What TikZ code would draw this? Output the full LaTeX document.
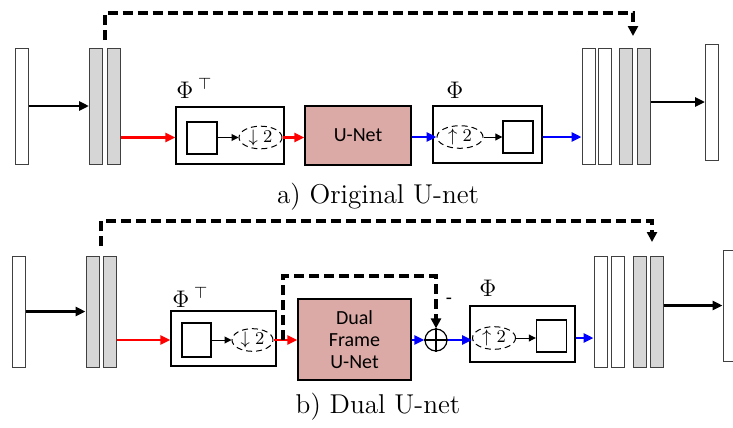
\documentclass[tikz,border=0pt]{standalone}
\usepackage{fontspec}
\newfontfamily\boxfont{Carlito}
\usetikzlibrary{arrows.meta,shapes.geometric}

\definecolor{unetpink}{RGB}{220,170,166}

\begin{document}
\begin{tikzpicture}[x=0.5pt,y=-0.5pt,
  bar/.style={draw=black!75,line width=0.5pt,minimum width=6.5pt,inner sep=0pt},
  wbar/.style={bar,fill=white},
  gbar/.style={bar,fill=black!16},
  op/.style={draw,line width=0.7pt,inner sep=0pt},
  sq/.style={draw,line width=0.7pt,minimum width=15pt,minimum height=16pt,inner sep=0pt},
  samp/.style={ellipse,draw,densely dashed,line width=0.5pt,minimum width=21.5pt,minimum height=11pt,inner sep=0pt,font=\fontsize{9}{9}\selectfont},
  net/.style={draw,line width=0.7pt,fill=unetpink,inner sep=0pt,align=center,font=\boxfont\fontsize{10}{11}\selectfont},
  thk/.style={line width=1.4pt,-{Triangle[length=5pt,width=4.5pt]}},
  thin/.style={line width=0.5pt,-{Triangle[length=3.5pt,width=3.5pt]}},
  skip/.style={line width=2pt,dash pattern=on 5pt off 2.5pt,-{Triangle[length=5pt,width=5pt]}},
  lbl/.style={inner sep=0pt,font=\fontsize{12}{12}\selectfont},
  captext/.style={inner sep=0pt,font=\rmfamily\fontsize{13.6}{14}\selectfont}]
  \useasboundingbox (0,0) rectangle (733,428);
  % a) original U-net
  \node[wbar,minimum height=58pt] (ain) at (21.5,106) {};
  \foreach \x/\n in {96/ag1,114/ag2,626/ag3,644/ag4}{\node[gbar,minimum height=58pt] (\n) at (\x,106) {};}
  \foreach \x/\n in {588.5/aw1,605/aw2}{\node[wbar,minimum height=58pt] (\n) at (\x,106) {};}
  \node[wbar,minimum height=58pt] (aout) at (712,102) {};
  \node[op,minimum width=54pt,minimum height=28.5pt] (apt) at (230,135.5) {};
  \node[sq] (asq1) at (202,138) {};
  \node[samp] (adn) at (260.5,137.5) {$\downarrow 2$};
  \node[net,minimum width=53pt,minimum height=29.5pt] (anet) at (358,135.5) {U-Net};
  \node[op,minimum width=54.5pt,minimum height=28.5pt] (aph) at (487.5,134.5) {};
  \node[samp,minimum width=23pt] (aup) at (460,137) {$\uparrow 2$};
  \node[sq] (asq2) at (518,137) {};
  \node[lbl,anchor=base west] (aptl) at (176,98) {$\Phi^{\;\top}$};
  \node[lbl,anchor=base west] (aphl) at (446,98) {$\Phi$};
  \draw[thk] (ain.east |- ag1) -- (ag1);
  \draw[thk,red] (ag2.east |- adn) -- (adn -| apt.west);
  \draw[thin] (asq1.east |- adn) -- (adn);
  \draw[thk,red] (adn.east) -- (adn.east -| anet.west);
  \draw[thk,blue] (anet.east |- aup) -- (aup);
  \draw[thin] (aup) -- (asq2.west |- aup);
  \draw[thk,blue] (aph.east |- aup) -- (aup -| aw1.west);
  \draw[thk] (ag4.east |- aout) -- (aout);
  \coordinate (askip) at (104.5,40);
  \coordinate (aend) at (633,36);
  \draw[skip] (askip) -- ++(0,-27) -| (aend);
  \node[captext,anchor=base] (acap) at (378,203) {a) Original U-net};
  % b) dual U-net
  \node[wbar,minimum height=55.5pt] (bin) at (19,311.5) {};
  \foreach \x/\n in {92.5/bg1,110/bg2,639.5/bg3,656.5/bg4}{\node[gbar,minimum height=55.5pt] (\n) at (\x,311.5) {};}
  \foreach \x/\n in {600.5/bw1,617.5/bw2}{\node[wbar,minimum height=55.5pt] (\n) at (\x,311.5) {};}
  \node[wbar,minimum height=55.5pt] (bout) at (729.5,305.5) {};
  \node[op,minimum width=52.5pt,minimum height=27.5pt] (bpt) at (223.5,338.5) {};
  \node[sq,minimum width=14.5pt,minimum height=17pt] (bsq1) at (196.5,340) {};
  \node[samp,minimum width=20.5pt] (bdn) at (252.5,340) {$\downarrow 2$};
  \node[net,minimum width=56.5pt,minimum height=40.5pt] (bnet) at (354.5,339.5) {Dual\\Frame\\U-Net};
  \node[circle,draw,line width=0.6pt,minimum size=11pt,inner sep=0pt] (bsum) at (436,340) {};
  \draw[line width=0.6pt] (bsum.north) -- (bsum.south) (bsum.west) -- (bsum.east);
  \node[op,minimum width=52.5pt,minimum height=28pt] (bph) at (522.5,334) {};
  \node[samp] (bup) at (494,338) {$\uparrow 2$};
  \node[sq] (bsq2) at (551.5,336) {};
  \node[lbl,anchor=base west] (bptl) at (172,307) {$\Phi^{\;\top}$};
  \node[lbl,anchor=base west] (bphl) at (479,296) {$\Phi$};
  \node[inner sep=0pt,font=\boxfont\fontsize{10}{10}\selectfont] (bminus) at (449,301) {-};
  \draw[thk] (bin.east |- bg1) -- (bg1);
  \draw[thk,red] (bg2.east |- bdn) -- (bdn -| bpt.west);
  \draw[thin] (bsq1) -- (bdn);
  \draw[thk,red] (bdn) -- (bdn -| bnet.west);
  \draw[thk,blue] (bnet.east |- bsum) -- (bsum);
  \draw[thk,blue] (bsum) -- (bsum -| bup.west);
  \draw[thin] (bup) -- (bsq2.west |- bup);
  \draw[thk,blue] (bph.east |- bup) -- (bup -| bw1.west);
  \draw[thk] (bg4.east |- bout) -- (bout);
  \coordinate (bres) at (283,340);
  \draw[skip] (bres) -- ++(0,-64) -| (bsum.north);
  \coordinate (bskip) at (101,246);
  \coordinate (bend) at (652,242);
  \draw[skip] (bskip) -- ++(0,-25) -| (bend);
  \node[captext,anchor=base] (bcap) at (378,413) {b) Dual U-net};
\end{tikzpicture}
\end{document}
